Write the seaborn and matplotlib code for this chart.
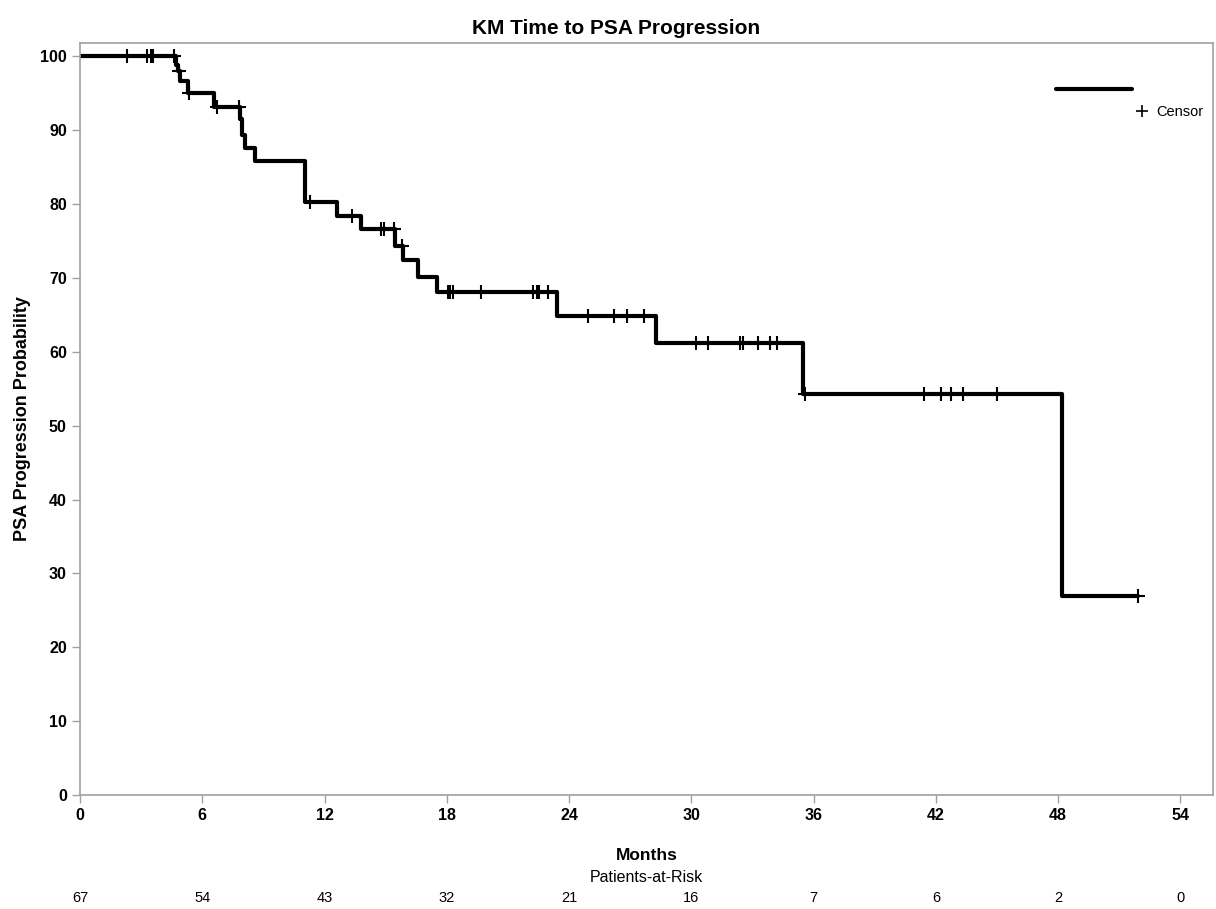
import numpy as np
import pandas as pd
import matplotlib.pyplot as plt
import matplotlib.transforms as mtransforms
from matplotlib.lines import Line2D
import seaborn as sns

# KM step function (time in months, probability in %)
step_times = [0, 4.7, 4.8, 4.9, 5.3, 6.6, 7.85, 7.95, 8.1, 8.6, 11.05, 12.6, 13.8,
              15.45, 15.85, 16.6, 17.5, 23.4, 28.25, 35.5, 48.2, 51.9]
step_surv = [100, 98.8, 98.0, 96.7, 95.0, 93.1, 91.5, 89.3, 87.6, 85.8, 80.3, 78.4, 76.6,
             74.3, 72.4, 70.1, 68.1, 64.9, 61.2, 54.3, 27.0, 27.0]

# censored observations
censor_times = [2.32, 3.3, 3.5, 3.6, 4.6, 4.85, 5.35, 6.7, 7.8,
                11.28, 13.37, 14.76, 14.93, 15.42, 15.82,
                18.06, 18.18, 18.31, 19.7, 22.23, 22.43, 22.51, 22.97,
                24.93, 26.19, 26.84, 27.66,
                30.21, 30.82, 32.37, 32.56, 33.27, 33.84, 34.22,
                35.6, 41.44, 42.23, 42.72, 43.35, 45.02, 51.9]

risk_months = [0, 6, 12, 18, 24, 30, 36, 42, 48, 54]
risk_counts = [67, 54, 43, 32, 21, 16, 7, 6, 2, 0]

sns.set_style('white')
plt.rcParams['font.family'] = ['Liberation Sans', 'DejaVu Sans']
plt.rcParams['text.color'] = 'black'
plt.rcParams['axes.labelcolor'] = 'black'

fig = plt.figure(figsize=(12.16, 9.09), dpi=100)
ax = fig.add_axes([0.0658, 0.1254, 0.9317, 0.8273])

km = pd.DataFrame({'Months': step_times, 'Prob': step_surv})
sns.lineplot(data=km, x='Months', y='Prob', drawstyle='steps-post',
             color='black', lw=3, ax=ax)

idx = np.searchsorted(step_times, censor_times, side='right') - 1
cens = pd.DataFrame({'Months': censor_times, 'Prob': np.array(step_surv)[idx]})
sns.scatterplot(data=cens, x='Months', y='Prob', marker='+', s=110,
                color='black', linewidth=1.5, ax=ax, zorder=3)

ax.set_xlim(0, 55.6)
ax.set_ylim(0, 101.8)
ax.set_xticks(risk_months)
ax.set_yticks(range(0, 101, 10))
for s in ax.spines.values():
    s.set_color('#a0a0a0')
    s.set_linewidth(1.2)
ax.tick_params(direction='out', length=6, width=1, color='#a0a0a0',
               bottom=True, left=True, labelsize=11.5, labelcolor='black')
for lab in ax.get_xticklabels() + ax.get_yticklabels():
    lab.set_fontweight('bold')

ax.set_xlabel('Months', fontsize=12.5, fontweight='bold', color='black')
ax.xaxis.set_label_coords(0.5, -0.07)
ax.set_ylabel('PSA Progression Probability', fontsize=13, fontweight='bold', color='black')
ax.yaxis.set_label_coords(-0.043, 0.5)

fig.text(0.507, 0.969, 'KM Time to PSA Progression', ha='center', va='center',
         fontsize=15, fontweight='bold', color='black')

trans = mtransforms.blended_transform_factory(ax.transData, ax.transAxes)
ax.text(0.5, -0.11, 'Patients-at-Risk', transform=ax.transAxes,
        ha='center', va='center', fontsize=11.5, color='black')
for m, c in zip(risk_months, risk_counts):
    ax.text(m, -0.137, str(c), transform=trans, ha='center', va='center',
            fontsize=10.5, color='black')

leg1 = ax.legend(handles=[Line2D([], [], color='black', lw=3)], labels=[''],
                 loc='center', bbox_to_anchor=(0.895, 0.9375), frameon=False,
                 handlelength=5.5, borderpad=0, borderaxespad=0, handletextpad=0)
ax.add_artist(leg1)
ax.legend(handles=[Line2D([], [], marker='+', ls='none', color='black', ms=8, mew=1.2)],
          labels=['Censor'], loc='center', bbox_to_anchor=(0.962, 0.908), frameon=False,
          handlelength=0.8, borderpad=0, borderaxespad=0, handletextpad=0.6, fontsize=10.5)

fig.savefig('out.png', dpi=100)
